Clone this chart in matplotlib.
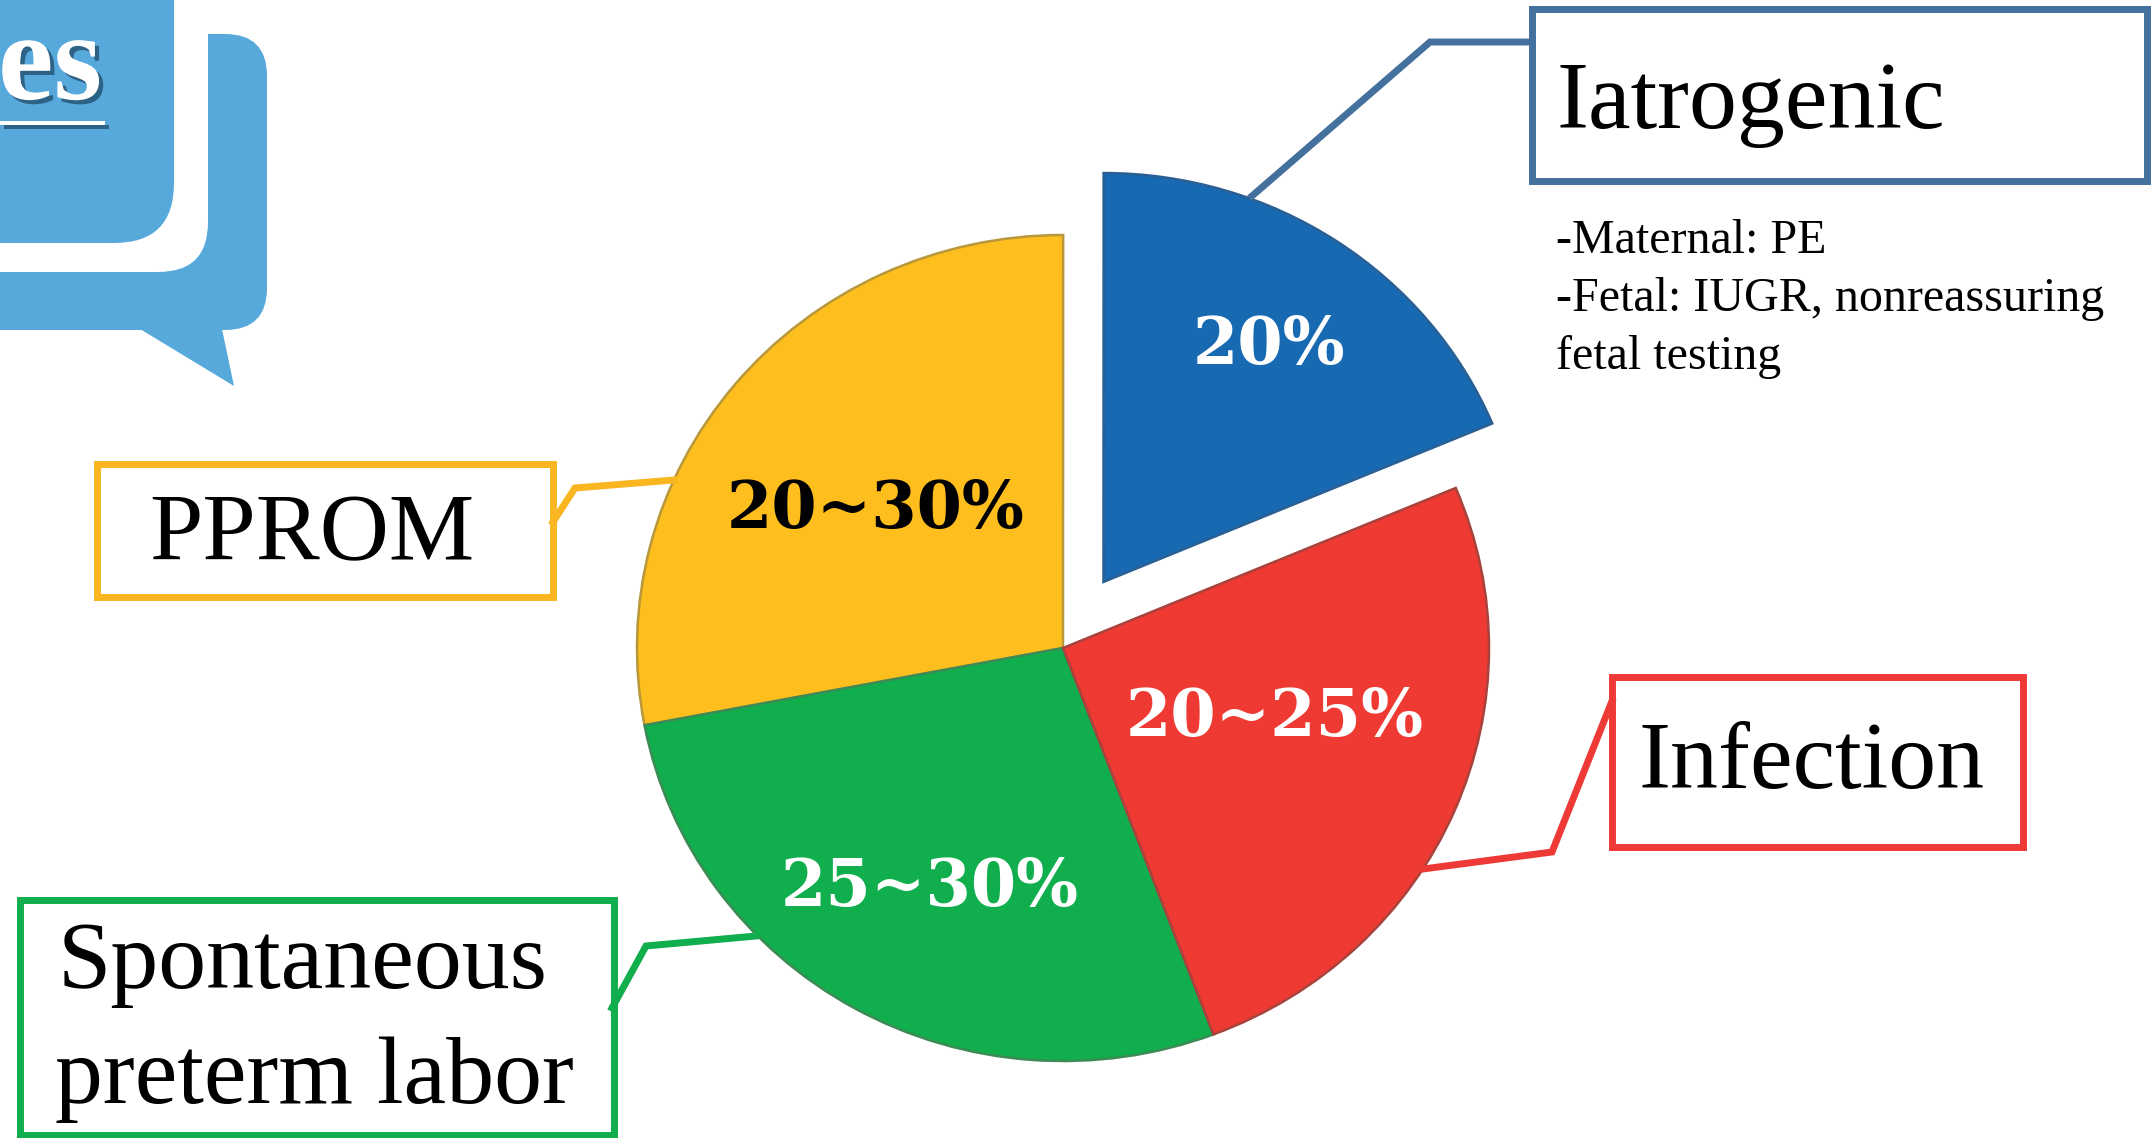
import matplotlib

matplotlib.use("Agg")
import matplotlib.patheffects as pe
import matplotlib.pyplot as plt
from matplotlib.patches import FancyBboxPatch, Polygon, Rectangle

W, H = 2156, 1138

# Pie values, counterclockwise from the blue slice
categories = ["Iatrogenic", "PPROM", "Spontaneous preterm labor", "Infection"]
shares = [18.66, 28.0, 27.75, 25.59]
share_labels = ["20%", "20~30%", "25~30%", "20~25%"]
slice_colors = ["#1769B2", "#FDBE1E", "#10AE4D", "#EE3A33"]
edge_colors = ["#2A5F93", "#B8983A", "#3C8A55", "#A8423C"]
label_colors = ["white", "black", "white", "white"]
label_pos = [(1269, 346), (876, 510), (930, 888), (1275, 718)]
explode = [0.172, 0, 0, 0]

SERIF = "Liberation Serif"
BUBBLE = "#57A9DC"

fig = plt.figure(figsize=(W / 100, H / 100), dpi=100)

# Pie axes, slightly squashed like the picture
cx, cy, half_w, rx, ry = 1063, 648, 520, 426, 413
half_h = half_w * ry / rx
pie_ax = fig.add_axes(
    [(cx - half_w) / W, 1 - (cy + half_h) / H, 2 * half_w / W, 2 * half_h / H]
)
wedges, _ = pie_ax.pie(
    shares,
    colors=slice_colors,
    explode=explode,
    startangle=22.8,
    counterclock=True,
    radius=1,
    wedgeprops={"linewidth": 1.8},
)
for wedge, edge in zip(wedges, edge_colors):
    wedge.set_edgecolor(edge)
# The blue slice is pulled out a bit more upward than explode alone gives
wedges[0].set_center((0.095, 0.16))
wedges[0].set_radius(0.99)
pie_ax.set_aspect("auto")
pie_ax.set_xlim(-half_w / rx, half_w / rx)
pie_ax.set_ylim(-half_w / rx, half_w / rx)
pie_ax.axis("off")

# Everything else sits on an overlay in pixel coordinates
ax = fig.add_axes([0, 0, 1, 1])
ax.set_xlim(0, W)
ax.set_ylim(H, 0)
ax.axis("off")
ax.patch.set_alpha(0)

for text, pos, color in zip(share_labels, label_pos, label_colors):
    ax.text(
        pos[0], pos[1], text, color=color, family="DejaVu Serif", weight="bold",
        fontsize=47, ha="center", va="center",
    )

# Speech bubble in the top left corner
ax.add_patch(
    FancyBboxPatch(
        (-120, 34), 387, 296, boxstyle="round,pad=0,rounding_size=42",
        fc=BUBBLE, ec="none",
    )
)
ax.add_patch(Polygon([(140, 329), (234, 386), (222, 329)], fc=BUBBLE, ec="none"))
ax.add_patch(Rectangle((-120, -10), 328, 100, fc="white", ec="none"))
ax.add_patch(
    FancyBboxPatch(
        (-120, -120), 328, 392, boxstyle="round,pad=0,rounding_size=50",
        fc="white", ec="none",
    )
)
ax.add_patch(
    FancyBboxPatch(
        (-120, -120), 294, 363, boxstyle="round,pad=0,rounding_size=60",
        fc=BUBBLE, ec="none",
    )
)
shadow = [pe.withSimplePatchShadow(offset=(3, -3), shadow_rgbFace="#23506F", alpha=0.8)]
ax.text(
    102, 99, "es", color="white", family=SERIF, weight="bold", fontsize=90,
    ha="right", va="baseline", path_effects=shadow,
)
ax.add_patch(Rectangle((0, 121), 105, 3.5, fc="white", ec="none", path_effects=shadow))

# Callout boxes: (left, top, right, bottom), leader line, colour
callouts = [
    ((1532, 9, 2147, 181), [(1532, 42), (1430, 42), (1252, 196)], "#44709D"),
    ((97, 464, 553, 597), [(553, 522), (575, 488), (674, 480)], "#F9B621"),
    ((1612, 677, 2023, 847), [(1612, 701), (1552, 852), (1423, 869)], "#EE3A37"),
    ((20, 900, 614, 1135), [(612, 1008), (646, 946), (756, 936)], "#10AE4D"),
]
for (x0, y0, x1, y1), leader, color in callouts:
    ax.add_patch(
        Rectangle((x0, y0), x1 - x0, y1 - y0, fc="none", ec=color, lw=5, clip_on=False)
    )
    ax.plot([p[0] for p in leader], [p[1] for p in leader], color=color, lw=5,
            solid_joinstyle="miter")

big = {"family": SERIF, "fontsize": 69, "color": "black", "va": "baseline"}
ax.text(1556, 128, "Iatrogenic", **big)
ax.text(149, 560, "PPROM", **big)
ax.text(1638, 788, "Infection", **big)
ax.text(58, 988, "Spontaneous", **big)
ax.text(55, 1103, "preterm labor", **big)

small = {"family": SERIF, "fontsize": 34.6, "color": "black", "va": "baseline"}
ax.text(1556, 253, "-Maternal: PE", **small)
ax.text(1556, 311, "-Fetal: IUGR, nonreassuring", **small)
ax.text(1556, 369, "fetal testing", **small)

fig.savefig("out.png", dpi=100)
